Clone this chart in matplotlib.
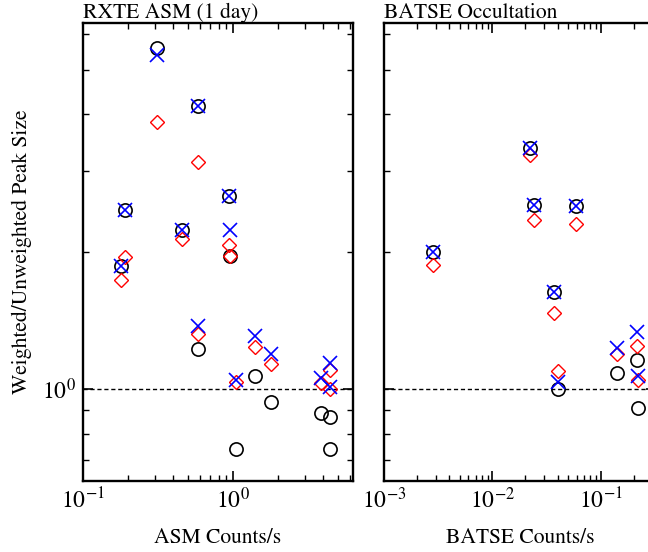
import matplotlib
matplotlib.use("Agg")
import matplotlib.pyplot as plt
import numpy as np
from matplotlib.ticker import LogLocator, NullFormatter, FixedLocator, FixedFormatter

# ---------------- data ----------------
asm_rate    = [0.179, 0.19, 0.31, 0.459, 0.585, 0.585, 0.94, 0.96, 1.04, 1.41, 1.78, 3.85, 4.4, 4.42]
asm_circle  = [1.86, 2.47, 5.58, 2.23, 4.17, 1.225, 2.65, 1.96, 0.741, 1.069, 0.94, 0.889, 0.870, 0.741]
asm_cross   = [1.86, 2.47, 5.38, 2.23, 4.17, 1.373, 2.65, 2.23, 1.048, 1.306, 1.197, 1.056, 1.14, 1.01]
asm_diamond = [1.73, 1.95, 3.84, 2.13, 3.15, 1.319, 2.07, 1.96, 1.036, 1.24, 1.135, 1.033, 1.101, 1.003]

batse_rate    = [0.00285, 0.0223, 0.0243, 0.0589, 0.0369, 0.0405, 0.14, 0.216, 0.22]
batse_circle  = [2.0, 3.38, 2.53, 2.52, 1.63, 1.0, 1.087, 1.158, 0.909]
batse_cross   = [2.0, 3.38, 2.53, 2.52, 1.63, 1.039, 1.234, 1.332, 1.069]
batse_diamond = [1.87, 3.25, 2.35, 2.30, 1.47, 1.096, 1.197, 1.242, 1.048]

titles = ["RXTE ASM (1 day)", "BATSE Occultation"]
xlabels = ["ASM Counts/s", "BATSE Counts/s"]
ylabel = "Weighted/Unweighted Peak Size"

# ---------------- style ----------------
plt.rcParams['font.family'] = ['STIXGeneral', 'DejaVu Serif']
plt.rcParams['mathtext.fontset'] = 'stix'

W, H = 648, 552
fig = plt.figure(figsize=(W/100, H/100), dpi=100)

def px_axes(x0, x1, ytop, ybot):
    return [x0/W, 1 - ybot/H, (x1 - x0)/W, (ybot - ytop)/H]

ax1 = fig.add_axes(px_axes(83, 353, 23, 481))
ax2 = fig.add_axes(px_axes(384, 656, 23, 481))

ylim = (0.63, 6.33)
xlims = [(0.1, 6.3), (1e-3, 0.3214)]

datasets = [(asm_rate, asm_circle, asm_cross, asm_diamond),
            (batse_rate, batse_circle, batse_cross, batse_diamond)]

for i, ax in enumerate([ax1, ax2]):
    x, c, cr, d = datasets[i]
    ax.set_xscale('log')
    ax.set_yscale('log')
    ax.axhline(1.0, color='black', lw=1.0, ls=(0, (3, 2)), zorder=1)
    ax.plot(x, c, ls='none', marker='o', ms=9.5, mfc='none', mec='black', mew=1.2, zorder=3)
    ax.plot(x, d, ls='none', marker='D', ms=6.8, mfc='none', mec='red', mew=1.0, zorder=4)
    ax.plot(x, cr, ls='none', marker='x', ms=10, mec='blue', mew=1.2, zorder=5)
    ax.set_xlim(*xlims[i])
    ax.set_ylim(*ylim)

    for s in ax.spines.values():
        s.set_linewidth(1.7)

    ax.xaxis.set_major_locator(LogLocator(base=10))
    ax.xaxis.set_minor_locator(LogLocator(base=10, subs=np.arange(2, 10)))
    ax.xaxis.set_minor_formatter(NullFormatter())
    ax.yaxis.set_major_locator(FixedLocator([1.0]))
    ax.yaxis.set_minor_locator(FixedLocator([0.7, 0.8, 0.9, 2, 3, 4, 5, 6]))
    ax.yaxis.set_minor_formatter(NullFormatter())
    if i == 0:
        ax.yaxis.set_major_formatter(FixedFormatter([r'$10^{0}$']))
    else:
        ax.yaxis.set_major_formatter(NullFormatter())

    ax.tick_params(which='both', direction='in', top=True, right=True)
    ax.tick_params(which='major', length=7.5, width=1.2, labelsize=17, pad=5)
    ax.tick_params(which='minor', length=4, width=1.0)

    ax.set_title(titles[i], loc='left', fontsize=15.5, pad=2)

fig.text(22/W, 1 - 252/H, ylabel, rotation=90, ha='center', va='center', fontsize=15.5)
fig.text(218/W, 1 - 538/H, xlabels[0], ha='center', va='center', fontsize=15.5)
fig.text(520/W, 1 - 538/H, xlabels[1], ha='center', va='center', fontsize=15.5)

fig.savefig('out.png', dpi=100)
